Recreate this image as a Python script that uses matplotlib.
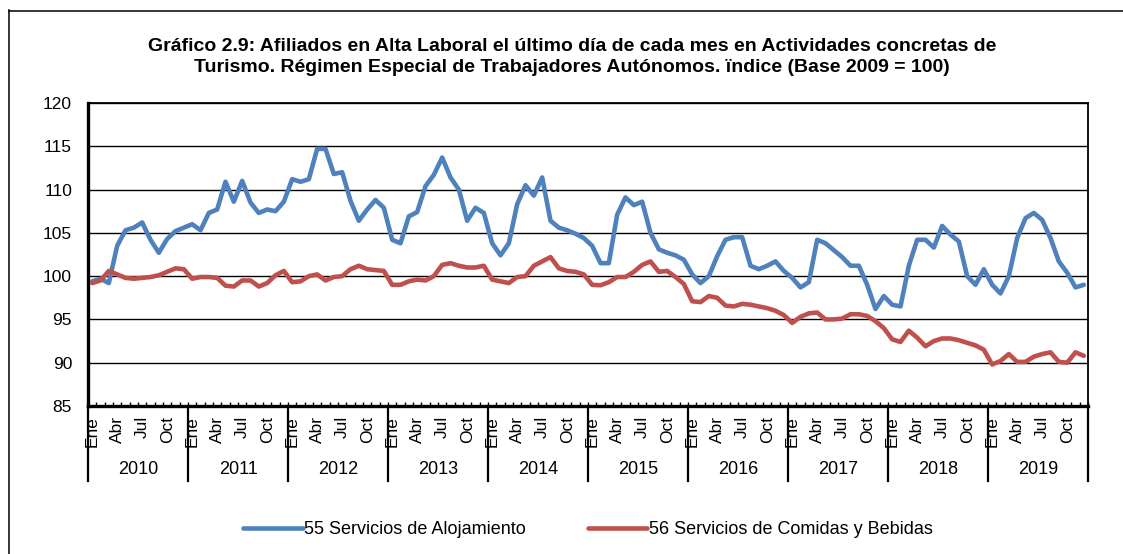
import matplotlib
matplotlib.use("Agg")
import matplotlib.pyplot as plt
import matplotlib.transforms as mtransforms
from matplotlib.lines import Line2D
import numpy as np

plt.rcParams['font.family'] = ['Liberation Sans Narrow', 'Liberation Sans', 'DejaVu Sans']

years = ['2010', '2011', '2012', '2013', '2014', '2015', '2016', '2017', '2018', '2019']
month_labels = ['Ene', 'Abr', 'Jul', 'Oct']

# indice mensual, base 2009 = 100
alojamiento = [
    99.4, 99.7, 99.2, 103.5, 105.3, 105.6, 106.2, 104.2, 102.7, 104.3, 105.2, 105.6,
    106.0, 105.3, 107.3, 107.7, 110.9, 108.6, 111.0, 108.5, 107.3, 107.7, 107.5, 108.6,
    111.2, 110.9, 111.2, 114.7, 114.7, 111.8, 112.0, 108.7, 106.4, 107.7, 108.8, 107.9,
    104.2, 103.8, 106.9, 107.4, 110.4, 111.7, 113.7, 111.4, 110.0, 106.4, 107.9, 107.3,
    103.8, 102.4, 103.8, 108.3, 110.5, 109.3, 111.4, 106.4, 105.6, 105.3, 104.9, 104.4,
    103.5, 101.5, 101.5, 107.1, 109.1, 108.2, 108.6, 105.0, 103.1, 102.7, 102.4, 101.9,
    100.2, 99.2, 100.0, 102.3, 104.2, 104.5, 104.5, 101.2, 100.8, 101.2, 101.7, 100.6,
    99.8, 98.7, 99.3, 104.2, 103.8, 103.0, 102.2, 101.2, 101.2, 99.0, 96.2, 97.7,
    96.7, 96.5, 101.2, 104.2, 104.2, 103.3, 105.8, 104.8, 104.0, 100.0, 99.0, 100.8,
    99.0, 98.0, 100.0, 104.4, 106.7, 107.3, 106.5, 104.4, 101.7, 100.4, 98.7, 99.0,
]
comidas = [
    99.2, 99.5, 100.6, 100.2, 99.8, 99.7, 99.8, 99.9, 100.1, 100.5, 100.9, 100.8,
    99.7, 99.9, 99.9, 99.8, 98.9, 98.8, 99.5, 99.5, 98.8, 99.2, 100.1, 100.6,
    99.3, 99.4, 100.0, 100.2, 99.5, 99.9, 100.0, 100.8, 101.2, 100.8, 100.7, 100.6,
    99.0, 99.0, 99.4, 99.6, 99.5, 100.0, 101.3, 101.5, 101.2, 101.0, 101.0, 101.2,
    99.6, 99.4, 99.2, 99.9, 100.0, 101.2, 101.7, 102.2, 100.9, 100.6, 100.5, 100.2,
    99.0, 98.95, 99.3, 99.9, 99.9, 100.5, 101.3, 101.7, 100.5, 100.6, 99.9, 99.1,
    97.1, 97.0, 97.7, 97.5, 96.6, 96.5, 96.8, 96.7, 96.5, 96.3, 96.0, 95.5,
    94.6, 95.3, 95.7, 95.8, 95.0, 95.0, 95.1, 95.6, 95.6, 95.4, 94.8, 94.0,
    92.7, 92.4, 93.7, 92.9, 91.9, 92.5, 92.8, 92.8, 92.6, 92.3, 92.0, 91.5,
    89.8, 90.2, 91.0, 90.1, 90.1, 90.7, 91.0, 91.2, 90.1, 90.0, 91.2, 90.8,
]

W, H = 1123, 554
fig = plt.figure(figsize=(W / 100, H / 100), dpi=100)

# marco exterior del grafico (sigue fuera del lienzo a derecha y abajo)
fig.add_artist(Line2D([8.5 / W, 8.5 / W], [1 - 10 / H, -0.1], transform=fig.transFigure,
                      color='black', lw=1.1))
fig.add_artist(Line2D([8.5 / W, 1.1], [1 - 10.5 / H, 1 - 10.5 / H], transform=fig.transFigure,
                      color='black', lw=1.1))

ax = fig.add_axes([88 / W, 1 - 406 / H, 1000 / W, 303 / H])

x = np.arange(len(alojamiento))
ax.plot(x, alojamiento, color='#4F81BD', lw=3.3, solid_joinstyle='round',
        solid_capstyle='round', label='55 Servicios de Alojamiento', zorder=3)
ax.plot(x, comidas, color='#C0504D', lw=3.3, solid_joinstyle='round',
        solid_capstyle='round', label='56 Servicios de Comidas y Bebidas', zorder=3)

ax.set_xlim(-0.5, len(x) - 0.5)
ax.set_ylim(85, 120)
ax.set_yticks(np.arange(85, 121, 5))
ax.yaxis.grid(True, color='black', lw=1.0)
ax.set_axisbelow(True)
ax.tick_params(axis='y', length=0, pad=11.5, labelsize=12.5)

# marcas de mes hacia dentro, sin etiquetas
ax.set_xticks(np.arange(len(x) + 1) - 0.5)
ax.set_xticklabels([])
ax.tick_params(axis='x', direction='in', length=3, width=1, color='black')

for side in ['left', 'bottom']:
    ax.spines[side].set_linewidth(2.4)
for side in ['top', 'right']:
    ax.spines[side].set_linewidth(1.3)

# etiquetas de mes y de año bajo el eje
trans = mtransforms.blended_transform_factory(ax.transData, ax.transAxes)
sep_bottom = -(481 - 406) / 303
for i, year in enumerate(years):
    start = i * 12
    ax.plot([start - 0.5, start - 0.5], [0, sep_bottom], transform=trans,
            color='black', lw=1.6, clip_on=False)
    for j, mes in enumerate(month_labels):
        ax.text(start + 3 * j, -(416 - 406) / 303, mes, transform=trans,
                rotation=90, ha='center', va='top', fontsize=12.5)
    ax.text(start + 5.5, -(469.5 - 406) / 303, year, transform=trans,
            ha='center', va='center', fontsize=13)
ax.plot([len(x) - 0.5, len(x) - 0.5], [0, sep_bottom], transform=trans,
        color='black', lw=1.6, clip_on=False)

fig.text(572 / W, 1 - 57 / H,
         'Gráfico 2.9: Afiliados en Alta Laboral el último día de cada mes en Actividades concretas de\n'
         'Turismo. Régimen Especial de Trabajadores Autónomos. ïndice (Base 2009 = 100)',
         ha='center', va='center', fontsize=14, fontweight='bold', linespacing=1.25)

fig.legend(loc='center', bbox_to_anchor=(588 / W, 1 - 530 / H), ncol=2, frameon=False,
           fontsize=13, handlelength=3.3, handletextpad=0.1, columnspacing=3.4)

fig.savefig('out.png', dpi=100)
